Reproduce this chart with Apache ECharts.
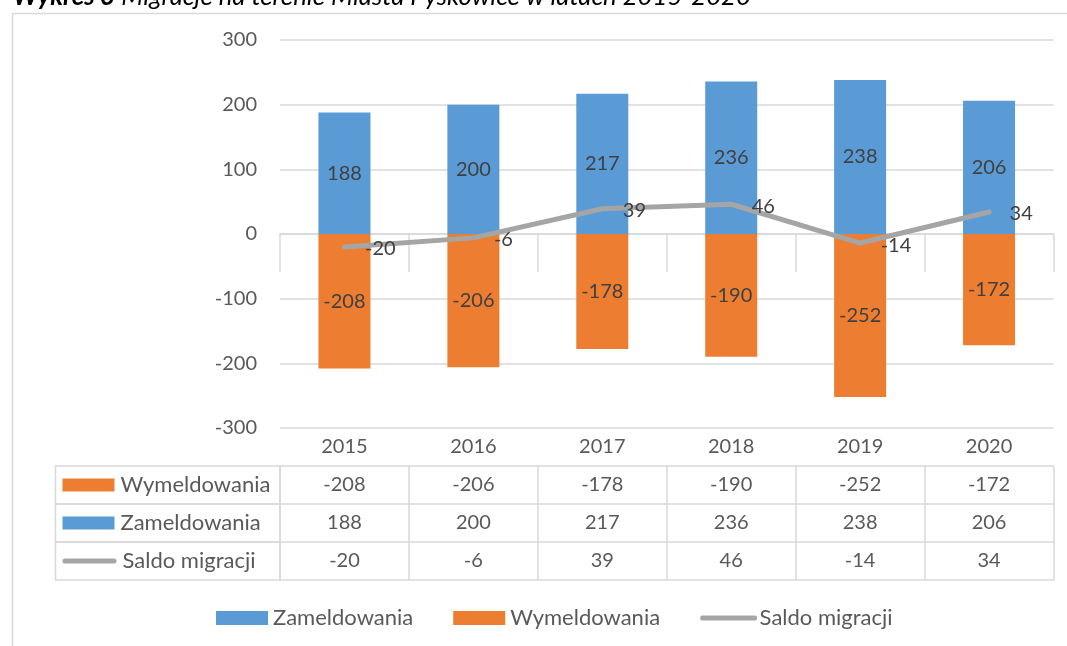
<!DOCTYPE html>
<html>
<head>
<meta charset="utf-8">
<script src="https://cdn.jsdelivr.net/npm/echarts@6/dist/echarts.min.js"></script>
<style>
  html, body { margin: 0; padding: 0; background: #fff; }
  #chart { width: 1067px; height: 646px; }
</style>
</head>
<body>
<div id="chart"></div>
<script>
const years = ['2015', '2016', '2017', '2018', '2019', '2020']
const zameldowania = [188, 200, 217, 236, 238, 206]
const wymeldowania = [-208, -206, -178, -190, -252, -172]
const saldo = [-20, -6, 39, 46, -14, 34]
const yTicks = [-300, 300, 100] // min, max, step

const FONT = 'Lato'
const TEXT = '#595959'
const DARK = '#404040'
const LINE = '#d9d9d9'
const BLUE = '#5b9bd5'
const ORANGE = '#ed7d31'
const GRAY = '#a5a5a5'
const ROW = 38

const chart = echarts.init(document.getElementById('chart'))

// one table row = one extra category axis sitting under the plot
const tableRows = [
  { name: 'Wymeldowania', values: wymeldowania, swatch: { width: 52, height: 13, backgroundColor: ORANGE } },
  { name: 'Zameldowania', values: zameldowania, swatch: { width: 52, height: 13, backgroundColor: BLUE } },
  { name: 'Saldo migracji', values: saldo, swatch: { width: 54, height: 5, borderRadius: 3, backgroundColor: GRAY } },
]

const cellLine = { lineStyle: { color: LINE, width: 1.5 } }

const headerAxis = {
  type: 'category',
  data: years,
  position: 'bottom',
  offset: 0,
  axisLine: { show: true, ...cellLine },
  axisTick: { show: true, length: ROW, ...cellLine },
  axisLabel: { color: TEXT, fontFamily: FONT, fontSize: 20, margin: 0, lineHeight: ROW },
  splitLine: { show: false },
}

const rowAxes = tableRows.map((row, i) => ({
  type: 'category',
  data: years,
  position: 'bottom',
  offset: ROW * (i + 1),
  axisLine: { show: true, ...cellLine },
  axisTick: { show: true, length: ROW, ...cellLine },
  axisLabel: {
    color: TEXT, fontFamily: FONT, fontSize: 20, margin: 0, lineHeight: ROW,
    formatter: (v, idx) => String(row.values[idx]),
  },
  splitLine: { show: false },
  name: '{sw|}{g|}{t|' + row.name + '}',
  nameLocation: 'start',
  nameGap: 224.5,
  nameMoveOverlap: false,
  nameTextStyle: {
    align: 'left',
    verticalAlign: 'top',
    padding: [0, 7],
    borderColor: LINE,
    borderWidth: 1.5,
    rich: {
      sw: row.swatch,
      g: { width: 6 },
      t: { width: 210.5 - 6 - row.swatch.width, lineHeight: ROW, color: TEXT, fontFamily: FONT, fontSize: 22 },
    },
  },
}))

// closing line under the last row
const bottomAxis = {
  type: 'category',
  data: years,
  position: 'bottom',
  offset: ROW * (tableRows.length + 1),
  axisLine: { show: true, ...cellLine },
  axisTick: { show: false },
  axisLabel: { show: false },
  splitLine: { show: false },
}

chart.setOption({
  animation: false,
  textStyle: { fontFamily: FONT },
  title: {
    text: '{b|Wykres 3} Migracje na terenie Miasta Pyskowice w latach 2015-2020',
    left: 13,
    top: -16,
    padding: 0,
    textStyle: {
      fontFamily: FONT, fontSize: 25.7, fontStyle: 'italic', fontWeight: 'normal', color: '#000',
      rich: { b: { fontFamily: FONT, fontSize: 25.7, fontStyle: 'italic', fontWeight: 'bold', color: '#000' } },
    },
  },
  graphic: [
    {
      type: 'rect', left: 10, top: 11, z: -1, silent: true,
      shape: { width: 1100, height: 700 },
      style: { fill: 'none', stroke: LINE, lineWidth: 1.5 },
    },
  ],
  grid: {
    left: 280,
    right: 13.5,
    top: 40,
    bottom: 218,
    containLabel: false,
    outerBoundsMode: 'none',
  },
  legend: {
    data: [
      { name: 'Zameldowania', icon: 'rect' },
      { name: 'Wymeldowania', icon: 'rect' },
      { name: 'Saldo migracji', itemStyle: { opacity: 0 } },
    ],
    left: 211,
    top: 601,
    itemWidth: 52,
    itemHeight: 14,
    itemGap: 40,
    lineStyle: { width: 5, cap: 'round' },
    textStyle: { color: TEXT, fontFamily: FONT, fontSize: 22, lineHeight: 24 },
  },
  xAxis: [headerAxis, ...rowAxes, bottomAxis],
  yAxis: {
    type: 'value',
    min: yTicks[0],
    max: yTicks[1],
    interval: yTicks[2],
    axisLine: { show: false },
    axisTick: { show: false },
    axisLabel: { color: TEXT, fontFamily: FONT, fontSize: 20, margin: 23 },
    splitLine: { lineStyle: { color: LINE, width: 1.5 } },
  },
  series: [
    {
      name: 'Zameldowania',
      type: 'bar',
      stack: 'migracje',
      barWidth: 52,
      data: zameldowania,
      itemStyle: { color: BLUE },
      label: { show: true, position: 'inside', color: DARK, fontFamily: FONT, fontSize: 20 },
    },
    {
      name: 'Wymeldowania',
      type: 'bar',
      stack: 'migracje',
      barWidth: 52,
      data: wymeldowania,
      itemStyle: { color: ORANGE },
      label: { show: true, position: 'inside', color: DARK, fontFamily: FONT, fontSize: 20 },
    },
    {
      name: 'Saldo migracji',
      type: 'line',
      data: saldo,
      symbol: 'circle',
      symbolSize: 1,
      showSymbol: true,
      z: 5,
      lineStyle: { color: GRAY, width: 5, cap: 'round', join: 'round' },
      itemStyle: { color: GRAY },
      label: { show: true, position: 'right', distance: 20, offset: [0, 2], color: DARK, fontFamily: FONT, fontSize: 20 },
    },
  ],
})

window.addEventListener('resize', () => chart.resize())
</script>
</body>
</html>
